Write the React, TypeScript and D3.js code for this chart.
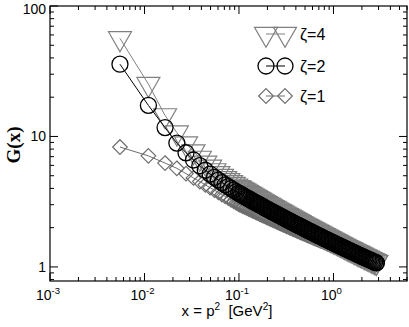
import React, { useEffect, useRef } from 'react';
import * as d3 from 'd3';

// x = p^2 [GeV^2]
const xValues = [
  0.0055, 0.011, 0.0165, 0.022, 0.0275, 0.033, 0.0385, 0.044, 0.0495, 0.055,
  0.0605, 0.066, 0.0715, 0.077, 0.0825, 0.088, 0.0935, 0.099,
  0.1025, 0.1061, 0.1098, 0.1137, 0.1177, 0.1218, 0.1261, 0.1305, 0.1351, 0.1398,
  0.1448, 0.1498, 0.1551, 0.1606, 0.1662, 0.172, 0.1781, 0.1843, 0.1908, 0.1975,
  0.2045, 0.2117, 0.2191, 0.2268, 0.2348, 0.243, 0.2516, 0.2604, 0.2695, 0.279,
  0.2888, 0.299, 0.3095, 0.3204, 0.3316, 0.3433, 0.3553, 0.3678, 0.3807, 0.3941,
  0.408, 0.4223, 0.4372, 0.4525, 0.4684, 0.4849, 0.5019, 0.5196, 0.5378, 0.5567,
  0.5763, 0.5965, 0.6175, 0.6392, 0.6617, 0.6849, 0.709, 0.7339, 0.7597, 0.7864,
  0.814, 0.8426, 0.8722, 0.9029, 0.9346, 0.9675, 1.0015, 1.0366, 1.0731, 1.1108,
  1.1498, 1.1903, 1.2321, 1.2753, 1.3202, 1.3666, 1.4146, 1.4643, 1.5158, 1.569,
  1.6242, 1.6812, 1.7403, 1.8015, 1.8648, 1.9303, 1.9982, 2.0684, 2.1411, 2.2163,
  2.2942, 2.3748, 2.4583, 2.5447, 2.6341, 2.7267, 2.8225, 2.85,
];

const zeta4 = [
  56.5, 25.2, 14.5, 10.7, 8.81, 7.66, 6.85, 6.28, 5.85, 5.49,
  5.22, 4.98, 4.78, 4.61, 4.46, 4.32, 4.19, 4.08,
  4.021, 3.962, 3.902, 3.844, 3.786, 3.731, 3.676, 3.622, 3.568, 3.516,
  3.465, 3.414, 3.364, 3.315, 3.267, 3.219, 3.173, 3.127, 3.082, 3.037,
  2.993, 2.951, 2.91, 2.868, 2.827, 2.787, 2.747, 2.708, 2.67, 2.633,
  2.596, 2.559, 2.523, 2.489, 2.454, 2.42, 2.387, 2.353, 2.321, 2.289,
  2.257, 2.226, 2.196, 2.165, 2.137, 2.107, 2.079, 2.05, 2.023, 1.995,
  1.969, 1.943, 1.917, 1.891, 1.866, 1.841, 1.816, 1.792, 1.768, 1.746,
  1.722, 1.699, 1.678, 1.655, 1.634, 1.612, 1.591, 1.571, 1.551, 1.531,
  1.511, 1.492, 1.473, 1.454, 1.435, 1.417, 1.399, 1.382, 1.364, 1.347,
  1.33, 1.314, 1.297, 1.281, 1.265, 1.249, 1.233, 1.219, 1.203, 1.189,
  1.175, 1.16, 1.146, 1.132, 1.118, 1.104, 1.091, 1.088,
];

const zeta2 = [
  35.8, 17.3, 11.7, 8.9, 7.5, 6.6, 5.97, 5.51, 5.15, 4.86,
  4.63, 4.43, 4.26, 4.12, 3.99, 3.875, 3.77, 3.68,
  3.628, 3.578, 3.527, 3.478, 3.429, 3.382, 3.335, 3.289, 3.243, 3.199,
  3.155, 3.112, 3.069, 3.027, 2.986, 2.945, 2.905, 2.866, 2.827, 2.789,
  2.751, 2.715, 2.679, 2.643, 2.608, 2.573, 2.539, 2.505, 2.472, 2.44,
  2.408, 2.376, 2.345, 2.315, 2.285, 2.255, 2.226, 2.197, 2.169, 2.141,
  2.113, 2.086, 2.06, 2.033, 2.008, 1.982, 1.957, 1.932, 1.908, 1.884,
  1.861, 1.838, 1.815, 1.792, 1.77, 1.748, 1.726, 1.705, 1.684, 1.664,
  1.643, 1.623, 1.604, 1.584, 1.565, 1.546, 1.527, 1.509, 1.491, 1.474,
  1.456, 1.439, 1.422, 1.405, 1.388, 1.372, 1.356, 1.34, 1.324, 1.309,
  1.294, 1.279, 1.264, 1.25, 1.235, 1.221, 1.207, 1.194, 1.18, 1.167,
  1.154, 1.141, 1.128, 1.115, 1.103, 1.09, 1.078, 1.075,
];

const zeta1 = [
  8.3, 7.1, 6.25, 5.7, 5.19, 4.81, 4.51, 4.26, 4.05, 3.88,
  3.73, 3.59, 3.47, 3.37, 3.27, 3.18, 3.1, 3.03,
  2.996, 2.962, 2.926, 2.891, 2.857, 2.824, 2.79, 2.758, 2.725, 2.694,
  2.663, 2.632, 2.601, 2.571, 2.541, 2.512, 2.483, 2.455, 2.426, 2.399,
  2.371, 2.345, 2.319, 2.292, 2.267, 2.241, 2.216, 2.191, 2.166, 2.143,
  2.119, 2.095, 2.072, 2.049, 2.027, 2.004, 1.983, 1.961, 1.94, 1.919,
  1.897, 1.877, 1.857, 1.836, 1.817, 1.797, 1.778, 1.759, 1.741, 1.722,
  1.704, 1.687, 1.669, 1.651, 1.634, 1.617, 1.6, 1.583, 1.567, 1.551,
  1.534, 1.519, 1.504, 1.488, 1.473, 1.458, 1.443, 1.428, 1.414, 1.4,
  1.386, 1.372, 1.359, 1.345, 1.331, 1.318, 1.305, 1.292, 1.279, 1.267,
  1.255, 1.243, 1.23, 1.219, 1.207, 1.195, 1.184, 1.173, 1.161, 1.151,
  1.14, 1.129, 1.118, 1.108, 1.098, 1.087, 1.077, 1.075,
];

const xMajor = [1e-3, 1e-2, 1e-1, 1];
const xMajorExp = ['-3', '-2', '-1', '0'];
const yMajor = [1, 10, 100];
const yMajorLabels = ['1', '10', '100'];
const legendLabels = ['\u03b6=4', '\u03b6=2', '\u03b6=1'];

const App = () => {
  const svgRef = useRef<SVGSVGElement>(null);

  useEffect(() => {
    const svg = d3.select(svgRef.current);
    svg.selectAll('*').remove();

    const left = 50, right = 407, top = 6, bottom = 281;
    const x = d3.scaleLog().domain([1e-3, 6]).range([left, right]);
    const y = d3.scaleLog().domain([0.78, 100]).range([bottom, top]);

    const sans = 'Liberation Sans, Arial, Helvetica, sans-serif';

    // marker shapes
    const triW = 23, triH = 20;
    const triPath = `M${-triW / 2},${-triH / 3}L${triW / 2},${-triH / 3}L0,${(2 * triH) / 3}Z`;
    const dia = 7.3;
    const diaPath = `M0,${-dia}L${dia},0L0,${dia}L${-dia},0Z`;
    const circR = 8;

    const series = [
      { values: zeta1, color: '#6e6e6e', shape: 'diamond' },
      { values: zeta4, color: '#808080', shape: 'triangle' },
      { values: zeta2, color: '#000000', shape: 'circle' },
    ];

    const drawMarker = (g: any, shape: string, color: string, cx: number, cy: number) => {
      if (shape === 'circle') {
        g.append('circle').attr('cx', cx).attr('cy', cy).attr('r', circR)
          .attr('fill', 'none').attr('stroke', color).attr('stroke-width', 1.3);
      } else {
        g.append('path').attr('d', shape === 'triangle' ? triPath : diaPath)
          .attr('transform', `translate(${cx},${cy})`)
          .attr('fill', 'none').attr('stroke', color).attr('stroke-width', 1.2);
      }
    };

    // data
    series.forEach((s) => {
      const g = svg.append('g');
      const pts: [number, number][] = xValues.map((xv, i) => [x(xv), y(s.values[i])]);
      g.append('path').attr('d', d3.line()(pts)).attr('fill', 'none')
        .attr('stroke', s.color).attr('stroke-width', 1);
      pts.forEach(([px, py]) => drawMarker(g, s.shape, s.color, px, py));
    });

    // frame
    svg.append('rect').attr('x', left).attr('y', top)
      .attr('width', right - left).attr('height', bottom - top)
      .attr('fill', 'none').attr('stroke', '#000').attr('stroke-width', 1.2);

    const axes = svg.append('g').attr('stroke', '#000').attr('stroke-width', 1);

    // x ticks (bottom & top, inward)
    for (let e = -3; e <= 0; e++) {
      for (let m = 1; m <= 9; m++) {
        const v = m * Math.pow(10, e);
        if (v > 6) continue;
        const len = m === 1 ? 8 : 4;
        const px = x(v);
        axes.append('line').attr('x1', px).attr('x2', px).attr('y1', bottom).attr('y2', bottom - len);
        axes.append('line').attr('x1', px).attr('x2', px).attr('y1', top).attr('y2', top + len);
      }
    }
    // y ticks (left & right, inward)
    for (let e = -1; e <= 1; e++) {
      for (let m = 1; m <= 9; m++) {
        const v = m * Math.pow(10, e);
        if (v < 0.78 || v > 100) continue;
        const len = m === 1 ? 8 : 4;
        const py = y(v);
        axes.append('line').attr('x1', left).attr('x2', left + len).attr('y1', py).attr('y2', py);
        axes.append('line').attr('x1', right).attr('x2', right - len).attr('y1', py).attr('y2', py);
      }
    }
    axes.append('line').attr('x1', left).attr('x2', left + 8).attr('y1', y(100)).attr('y2', y(100));

    // x tick labels
    xMajor.forEach((v, i) => {
      const t = svg.append('text').attr('x', x(v) - 2).attr('y', 300)
        .attr('text-anchor', 'middle').attr('font-family', sans).attr('font-size', 14);
      t.append('tspan').text('10');
      t.append('tspan').attr('dy', -6).attr('font-size', 9.5).text(xMajorExp[i]);
    });

    // y tick labels
    yMajor.forEach((v, i) => {
      svg.append('text').attr('x', 46).attr('y', Math.max(y(v) + 5, 14))
        .attr('text-anchor', 'end').attr('font-family', sans).attr('font-size', 14)
        .text(yMajorLabels[i]);
    });

    // axis titles
    const xt = svg.append('text').attr('x', 227).attr('y', 316)
      .attr('text-anchor', 'middle').attr('font-family', sans).attr('font-size', 15);
    xt.append('tspan').text('x = p');
    xt.append('tspan').attr('dy', -6).attr('font-size', 10).text('2');
    xt.append('tspan').attr('dy', 6).text('\u00a0 [GeV');
    xt.append('tspan').attr('dy', -6).attr('font-size', 10).text('2');
    xt.append('tspan').attr('dy', 6).text(']');

    svg.append('text').attr('transform', 'translate(20,145) rotate(-90)')
      .attr('text-anchor', 'middle').attr('font-family', 'Liberation Serif, Times New Roman, serif')
      .attr('font-weight', 'bold').attr('font-size', 19).text('G(x)');

    // legend
    const legend = [
      { shape: 'triangle', color: '#808080', y: 34 },
      { shape: 'circle', color: '#000000', y: 66 },
      { shape: 'diamond', color: '#6e6e6e', y: 96 },
    ];
    legend.forEach((l, i) => {
      const g = svg.append('g');
      g.append('line').attr('x1', 266).attr('x2', 285).attr('y1', l.y).attr('y2', l.y)
        .attr('stroke', l.color).attr('stroke-width', 1);
      drawMarker(g, l.shape, l.color, 266, l.y);
      drawMarker(g, l.shape, l.color, 285, l.y);
      svg.append('text').attr('x', 300).attr('y', l.y + 6)
        .attr('font-family', sans).attr('font-size', 16).text(legendLabels[i]);
    });
  }, []);

  return (
    <svg ref={svgRef} width={409} height={327}
      style={{ position: 'absolute', left: 0, top: 0, background: '#fff' }} />
  );
};

export default App;
